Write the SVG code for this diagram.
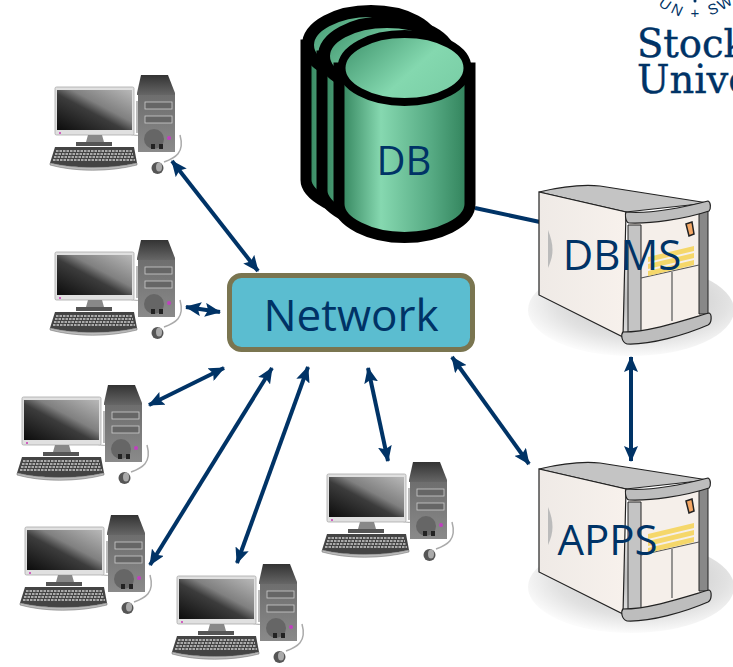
<svg xmlns="http://www.w3.org/2000/svg" width="733" height="667" viewBox="0 0 733 667">
<style>
.lbl{font-family:"Open Sans","Noto Sans",sans-serif;fill:#003366}
.logo{font-family:"DejaVu Serif","Liberation Serif",serif;fill:#003366;font-size:38.500px;stroke:#003366;stroke-width:.4}
.seal{font-family:"Liberation Sans",sans-serif;fill:#003366;font-size:15px}
.conn{stroke:#003366;stroke-width:4;fill:none;marker-start:url(#ah);marker-end:url(#ah)}
.cyl{stroke:#000;stroke-width:11;fill:url(#cylBody)}
.cap{stroke:#000;stroke-width:8;fill:url(#cylTop)}
.capr{stroke:#000;stroke-width:12;fill:url(#cylTop)}
</style>
<defs>
<marker id="ah" markerUnits="userSpaceOnUse" markerWidth="16" markerHeight="14" refX="15" refY="7" orient="auto-start-reverse"><path d="M0 0L16 7L0 14L3 7Z" fill="#003366"/></marker>
<linearGradient id="cylBody" x1="0" x2="1" y1="0" y2="0"><stop offset="0" stop-color="#2f8059"/><stop offset=".32" stop-color="#86d8b0"/><stop offset=".7" stop-color="#57ab84"/><stop offset="1" stop-color="#2f8059"/></linearGradient>
<linearGradient id="cylTop" x1="0" x2="1" y1="0" y2=".6"><stop offset="0" stop-color="#3a8f68"/><stop offset=".65" stop-color="#84d8af"/><stop offset="1" stop-color="#7bcfa7"/></linearGradient>
<linearGradient id="screen" x1="0" x2="1" y1="1" y2="0"><stop offset="0" stop-color="#0c0c0c"/><stop offset=".45" stop-color="#3c3c3c"/><stop offset=".6" stop-color="#808080"/><stop offset="1" stop-color="#b8b8b8"/></linearGradient>
<linearGradient id="tower" x1="0" x2="0" y1="0" y2="1"><stop offset="0" stop-color="#6e6e6e"/><stop offset="1" stop-color="#8a8a8a"/></linearGradient>
<linearGradient id="towerTop" x1="0" x2="0" y1="0" y2="1"><stop offset="0" stop-color="#333"/><stop offset="1" stop-color="#666"/></linearGradient>
<linearGradient id="side" x1="0" x2="1" y1="0" y2="0"><stop offset="0" stop-color="#efeae6"/><stop offset="1" stop-color="#f7f1ec"/></linearGradient>
<radialGradient id="shadow" cx=".55" cy=".4" r=".6"><stop offset="0" stop-color="#bbb"/><stop offset=".7" stop-color="#e2e2e2"/><stop offset="1" stop-color="#fbfbfb"/></radialGradient>
<g id="pc">
<path d="M75 58C82 60 92 63 100 56" fill="none" stroke="#aaa" stroke-width="1"/>
<rect x="5" y="12" width="79" height="48" rx="1.500" fill="#e0e0e0" stroke="#aaa" stroke-width=".8"/>
<rect x="7" y="15" width="75" height="40" fill="url(#screen)"/>
<rect x="9" y="57" width="2" height="2" fill="#d060c0"/>
<path d="M38 60H52L54 67H36Z" fill="#888"/>
<rect x="26" y="67" width="36" height="4" fill="#555"/>
<path d="M5 72H84L87 88C60 94 25 94 0 88Z" fill="#444"/>
<path d="M0 88C25 94 60 94 87 88V90C60 97 25 97 0 90Z" fill="#bbb" stroke="#666" stroke-width=".5"/>
<path d="M6 76H82M5 79H83M4 82H84M3 85H85" stroke="#ccc" stroke-width="1.400" stroke-dasharray="2.500 1" fill="none"/>
<path d="M91 0H118L125 18V20H87V18Z" fill="url(#towerTop)"/>
<rect x="88" y="20" width="37" height="57" fill="url(#tower)"/>
<rect x="86" y="26" width="2" height="32" fill="#bbb"/>
<rect x="95" y="27" width="27" height="7" fill="#666" stroke="#ccc" stroke-width=".8"/>
<rect x="95" y="41" width="27" height="7" fill="#666" stroke="#ccc" stroke-width=".8"/>
<circle cx="104" cy="64" r="10" fill="#666"/>
<circle cx="119" cy="63" r="2" fill="#c040c0"/>
<rect x="101" y="69" width="4" height="5" fill="#222"/><rect x="109" y="69" width="4" height="5" fill="#222"/>
<ellipse cx="107.500" cy="93" rx="6" ry="6" fill="#555"/>
<ellipse cx="109" cy="92" rx="3" ry="4.500" fill="#aaa"/>
<path d="M114 87C125 83 135 78 130 60" fill="none" stroke="#aaa" stroke-width="1.500"/>
</g>
<g id="server">
<ellipse cx="631" cy="310" rx="103" ry="46" fill="url(#shadow)"/>
<path d="M539 192C560 187 580 184 600 186L708 203L626 212Z" fill="#c4c4c4" stroke="#222" stroke-width="1.200"/>
<path d="M539 192L626 212L623 337L539 295Z" fill="url(#side)" stroke="#222" stroke-width="1.200"/>
<path d="M548 230C554 245 554 255 548 268Z" fill="#bbb"/>
<path d="M630 222L705 208V318L630 338Z" fill="#f5efea"/>
<path d="M628 225V338L641 335V225Z" fill="#c4c4c4" stroke="#222" stroke-width="1"/>
<path d="M699 211H708V314H699Z" fill="#888" stroke="#222" stroke-width="1"/>
<path d="M626 212C650 214 685 207 708 201C711 202 711 209 709 211C685 219 650 224 629 223C625 222 625 214 626 212Z" fill="#bdbdbd" stroke="#222" stroke-width="1.200"/>
<path d="M623 332C650 332 685 320 709 313C712 314 712 323 708 325C685 335 650 345 627 344C621 342 621 334 623 332Z" fill="#bdbdbd" stroke="#222" stroke-width="1.200"/>
<path d="M641 278L699 265M672 272V321" stroke="#555" stroke-width="1.200" fill="none"/>
<path d="M648 257L694 246V251L648 262ZM648 264L694 253V258L648 269ZM648 271L694 260V265L648 276Z" fill="#f5d76a"/>
<path d="M686 224L692 222L694 234L689 236Z" fill="#f4a765" stroke="#222" stroke-width="1.500"/>
</g>
</defs>
<rect width="733" height="667" fill="#fff"/>
<g id="connectors">
<path d="M475 208L540 222" stroke="#003366" stroke-width="4" fill="none"/>
<path class="conn" d="M172 161L258 271"/>
<path class="conn" d="M186 307L220 312"/>
<path class="conn" d="M149 405L224 368"/>
<path class="conn" d="M150 565L272 368"/>
<path class="conn" d="M237 563L308 367"/>
<path class="conn" d="M368 368L388 461"/>
<path class="conn" d="M452 357L529 464"/>
<path class="conn" d="M631 357L631 461"/>
</g>
<g id="pc1"><use href="#pc" x="50" y="75"/></g>
<g id="pc2"><use href="#pc" x="50" y="240"/></g>
<g id="pc3"><use href="#pc" x="17" y="385"/></g>
<g id="pc4"><use href="#pc" x="20" y="515"/></g>
<g id="pc5"><use href="#pc" x="172" y="564"/></g>
<g id="pc6"><use href="#pc" x="322" y="462"/></g>
<g id="db">
<path class="cyl" d="M306 45V180C306 195 337 214 371 214C404 214 437 195 437 180V45Z"/>
<ellipse class="capr" cx="371" cy="45" rx="63" ry="34"/>
<path class="cyl" d="M322 56V191C322 206 353 226 387 226C421 226 453 206 453 191V56Z"/>
<ellipse class="capr" cx="387" cy="56" rx="63" ry="34"/>
<path class="cyl" d="M339 68V204C339 222 370 237.500 404.500 237.500C439 237.500 470 222 470 204V68Z"/>
<ellipse cx="404.500" cy="68" rx="66" ry="37" fill="#000"/>
<ellipse class="cap" cx="404.500" cy="68" rx="63" ry="34"/>
<text class="lbl" x="404" y="175" font-size="40" text-anchor="middle">DB</text>
</g>
<g id="network">
<rect x="229.500" y="275.500" width="243" height="74" rx="12" fill="#5bbdd0" stroke="#7a7550" stroke-width="5"/>
<text class="lbl" x="351" y="331" font-size="44" text-anchor="middle">Network</text>
</g>
<g id="dbms">
<use href="#server"/>
<text class="lbl" x="622" y="270" font-size="42" text-anchor="middle">DBMS</text>
</g>
<g id="apps">
<use href="#server" y="277"/>
<text class="lbl" x="607.500" y="555" font-size="42" text-anchor="middle">APPS</text>
</g>
<g id="logo">
<text class="seal" transform="translate(665 4) rotate(35)" text-anchor="middle" y="5">U</text>
<text class="seal" transform="translate(677 10) rotate(25)" text-anchor="middle" y="5">N</text>
<text class="seal" x="695" y="18" text-anchor="middle" font-size="17">+</text>
<circle cx="695" cy="1" r="1.500" fill="#003366"/>
<text class="seal" transform="translate(713 9) rotate(-20)" text-anchor="middle" y="5">S</text>
<text class="seal" transform="translate(725 3) rotate(-30)" text-anchor="middle" y="5">W</text>
<text class="logo" x="637" y="57">Stock</text>
<text class="logo" x="637" y="93">Unive</text>
</g>
</svg>
